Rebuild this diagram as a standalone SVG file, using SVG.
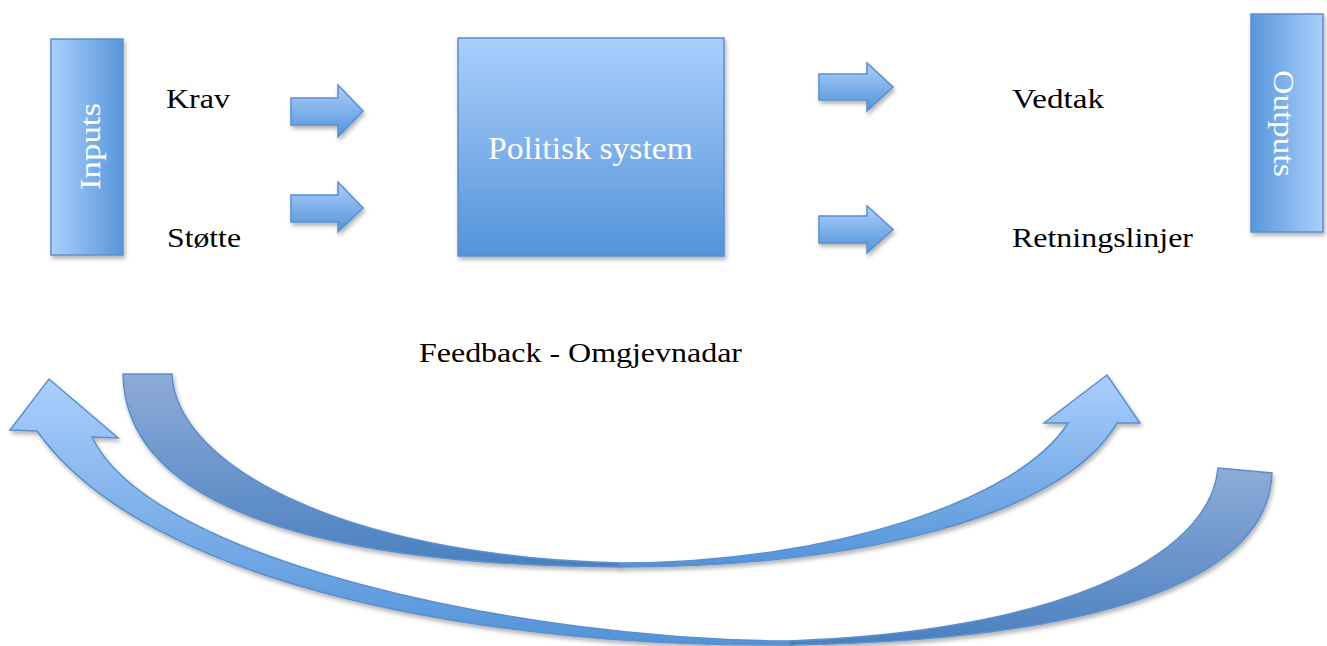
<svg xmlns="http://www.w3.org/2000/svg" width="1327" height="646" viewBox="0 0 1327 646">
<defs>
  <linearGradient id="gH" x1="0" y1="0" x2="1" y2="0">
    <stop offset="0" stop-color="#abcffd"/>
    <stop offset="1" stop-color="#5896da"/>
  </linearGradient>
  <linearGradient id="gHr" x1="1" y1="0" x2="0" y2="0">
    <stop offset="0" stop-color="#abcffd"/>
    <stop offset="1" stop-color="#5896da"/>
  </linearGradient>
  <linearGradient id="gV" x1="0" y1="0" x2="0" y2="1">
    <stop offset="0" stop-color="#abcffd"/>
    <stop offset="1" stop-color="#5393d8"/>
  </linearGradient>
  <linearGradient id="gDark" x1="0" y1="0" x2="0" y2="1">
    <stop offset="0" stop-color="#8eabd8"/>
    <stop offset="1" stop-color="#4a80c0"/>
  </linearGradient>
  <filter id="sh" x="-20%" y="-20%" width="140%" height="140%">
    <feDropShadow dx="1.5" dy="3" stdDeviation="2" flood-color="#000" flood-opacity="0.3"/>
  </filter>
  <style>
    .shape { stroke: #5b8fcb; stroke-width: 1.5; filter: url(#sh); }
    .lbl { font-family: "Liberation Serif", "Times New Roman", serif; font-size: 28px; fill: #000; }
    .wt { font-family: "Liberation Serif", "Times New Roman", serif; fill: #ffffff; }
  </style>
</defs>
<rect width="1327" height="646" fill="#ffffff"/>

<g id="connectors">
  <path class="shape" fill="url(#gV)" d="M291,98 L338,98 L338,85 L363,111 L338,137 L338,125 L291,125 Z"/>
  <path class="shape" fill="url(#gV)" d="M291,195 L338,195 L338,182 L363,208 L338,232 L338,222 L291,222 Z"/>
  <path class="shape" fill="url(#gV)" d="M819,74 L867,74 L867,63 L893,87 L867,111 L867,100 L819,100 Z"/>
  <path class="shape" fill="url(#gV)" d="M819,216 L867,216 L867,206 L893,229.5 L867,253 L867,243 L819,243 Z"/>

  <g id="feedback-upper">
    <path class="shape" fill="url(#gDark)" d="M123,374 L172,374 C175,460 330,555 620,563 L620,567 C300,565 125,500 123,374 Z"/>
    <path class="shape" fill="url(#gV)" d="M620,563 C830,563 1020,500 1068,423 L1044,423 L1107,375 L1140,423 L1117,423 C1060,520 850,567 620,567 Z"/>
  </g>
  <g id="feedback-lower">
    <path class="shape" fill="url(#gDark)" d="M1218,468 L1272,473 C1268,580 1100,640 790,645 L790,641 C1050,632 1210,560 1218,468 Z"/>
    <path class="shape" fill="url(#gV)" d="M790,641 C520,640 150,560 92,437 L118,438 L49,379 L10,430 L37,431 C150,590 500,648 790,645 Z"/>
  </g>
</g>

<g id="node-inputs">
  <rect class="shape" x="51" y="39" width="72" height="216" fill="url(#gH)"/>
  <text class="wt" font-size="29" text-anchor="middle" transform="translate(100,146.5) rotate(-90)" textLength="87" lengthAdjust="spacingAndGlyphs">Inputs</text>
</g>

<g id="node-outputs">
  <rect class="shape" x="1251" y="14" width="72" height="218" fill="url(#gHr)"/>
  <text class="wt" font-size="29" text-anchor="middle" transform="translate(1274,123.5) rotate(90)" textLength="107" lengthAdjust="spacingAndGlyphs">Outputs</text>
</g>

<g id="node-politisk">
  <rect class="shape" x="458" y="38" width="266" height="218" fill="url(#gV)"/>
  <text class="wt" font-size="32" x="488" y="159" textLength="205" lengthAdjust="spacingAndGlyphs">Politisk system</text>
</g>

<g id="label-krav"><text class="lbl" x="166" y="108" textLength="64" lengthAdjust="spacingAndGlyphs">Krav</text></g>
<g id="label-stotte"><text class="lbl" x="167" y="247" textLength="74" lengthAdjust="spacingAndGlyphs">Støtte</text></g>
<g id="label-vedtak"><text class="lbl" x="1012" y="108" textLength="92" lengthAdjust="spacingAndGlyphs">Vedtak</text></g>
<g id="label-retningslinjer"><text class="lbl" x="1012" y="247" textLength="181" lengthAdjust="spacingAndGlyphs">Retningslinjer</text></g>
<g id="label-feedback"><text class="lbl" x="419" y="362" textLength="323" lengthAdjust="spacingAndGlyphs">Feedback - Omgjevnadar</text></g>
</svg>
